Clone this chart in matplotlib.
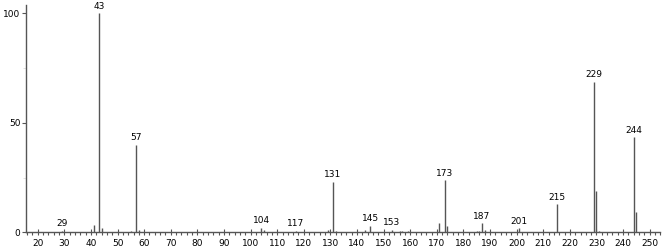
import matplotlib
matplotlib.use("Agg")
import matplotlib.pyplot as plt
from matplotlib.ticker import MultipleLocator

# peak list (m/z, relative abundance)
mz = [29, 41, 43, 44, 55, 57, 58, 104, 105, 117, 129, 131, 132, 143, 145,
      153, 156, 157, 159, 171, 173, 174, 185, 186, 187, 188, 201, 215,
      229, 230, 231, 244, 245]
intensity = [0.6, 3.2, 100, 1.8, 0.8, 40, 1.0, 2.1, 1.0, 0.7, 1.2, 23, 0.5,
             1.0, 3.0, 1.0, 0.6, 0.7, 0.8, 4.4, 23.7, 3.0, 0.8, 0.8, 4.1,
             1.0, 1.8, 12.8, 68.8, 18.9, 0.5, 43.4, 9.1]
labelled = [29, 43, 57, 104, 117, 131, 145, 153, 173, 187, 201, 215, 229, 244]

xticks = list(range(20, 251, 10))
yticks = [0, 50, 100]

grey = "#555555"
fig = plt.figure(figsize=(6.67, 2.49), dpi=100)
ax = fig.add_axes([0.039, 0.067, 0.951, 0.913])

ax.vlines(mz, 0, intensity, colors=grey, linewidth=1.0)
for m, v in zip(mz, intensity):
    if m in labelled:
        ax.text(m, v + 1.2, str(m), ha="center", va="bottom",
                fontsize=6.5, color="black")

ax.set_xlim(15.6, 254)
ax.set_ylim(0, 103.8)
ax.set_xticks(xticks)
ax.xaxis.set_minor_locator(MultipleLocator(2))
ax.set_yticks(yticks)
ax.set_yticklabels([str(t) for t in yticks])
ax.yaxis.set_minor_locator(MultipleLocator(25))

for s in ["top", "right"]:
    ax.spines[s].set_visible(False)
for s in ["left", "bottom"]:
    ax.spines[s].set_color(grey)
    ax.spines[s].set_linewidth(1.0)

ax.tick_params(axis="x", which="major", direction="inout", length=5,
               width=0.8, color=grey, labelsize=6.5, pad=2)
ax.tick_params(axis="x", which="minor", direction="out", length=2.5,
               width=0.8, color=grey)
ax.tick_params(axis="y", which="major", direction="out", length=3,
               width=0.8, color=grey, labelsize=6.5, pad=1)
ax.tick_params(axis="y", which="minor", direction="out", length=2,
               width=0.6, color="#dddddd")

fig.savefig("out.png", dpi=100)
